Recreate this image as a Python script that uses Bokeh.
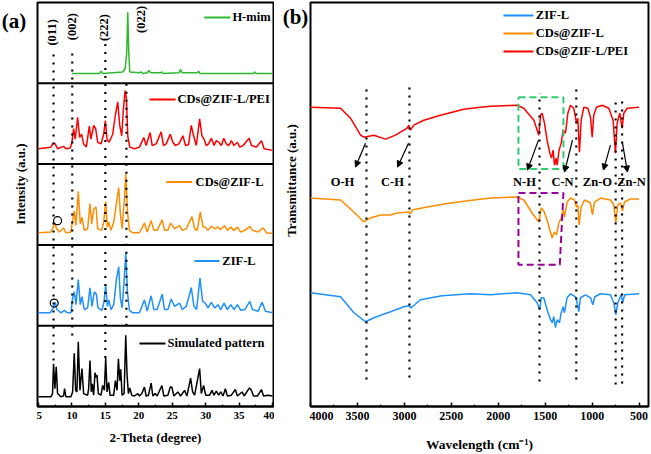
from math import pi
from bokeh.plotting import figure
from bokeh.models import Range1d, Span, FixedTicker, Arrow, NormalHead
from bokeh.layouts import row
from bokeh.embed import file_html
from bokeh.resources import INLINE
from bokeh.core.properties import value

FONT = "Liberation Serif"

# ---------------- Panel (a): XRD ----------------
tt_sim = [5.0, 6.85, 7.1, 7.25, 7.45, 7.65, 7.85, 8.35, 8.75, 8.9, 9.1, 9.85, 10.1, 10.35, 10.55, 10.75, 10.95, 11.2, 11.5, 11.75,
          12.35, 12.5, 12.7, 12.9, 13.05, 13.25, 13.45, 13.6, 13.75, 13.95, 14.35, 14.6, 14.85, 15.05, 15.25, 15.5, 15.7,
          16.25, 16.5, 16.75, 16.95, 17.15, 17.3, 17.5, 17.8, 18.05, 18.25, 18.45, 18.65, 18.95, 19.35, 19.85, 20.1, 20.45,
          20.85, 21.1, 21.45, 21.85, 22.1, 22.45, 22.75, 23.45, 23.75, 24.35, 24.7, 24.95, 25.25, 25.85, 26.25, 26.85, 27.2,
          27.75, 28.05, 28.35, 29.1, 29.35, 29.7, 30.0, 30.6, 30.95, 31.25, 31.6, 31.95, 32.25, 32.6, 32.95, 33.25, 33.85,
          34.45, 34.75, 35.45, 35.75, 36.55, 36.85, 37.15, 37.75, 38.35, 38.65, 39.35, 40.0]
i_sim = [12, 12, 16, 53, 22, 49, 16, 12, 13, 22, 12, 12, 18, 66, 20, 18, 80, 20, 47, 16,
         14, 22, 57, 18, 28, 14, 42, 36, 39, 16, 14, 26, 20, 60, 18, 30, 14,
         14, 32, 20, 59, 32, 46, 14, 16, 88, 38, 16, 23, 14, 13, 16, 13, 16,
         24, 13, 14, 29, 13, 16, 13, 26, 13, 14, 24, 24, 13, 18, 13, 20, 13,
         35, 18, 14, 47, 16, 26, 14, 14, 20, 14, 19, 14, 18, 13, 22, 13, 14,
         21, 13, 18, 13, 23, 20, 13, 13, 21, 13, 14, 13]

tt_zif = [5.0, 6.75, 7.2, 7.5, 7.75, 8.35, 8.85, 9.35, 9.85, 10.1, 10.35, 10.6, 10.95, 11.25, 11.5, 11.85, 12.35, 12.7, 13.0,
          13.35, 13.65, 13.9, 14.5, 14.8, 15.05, 15.3, 15.5, 15.85, 16.25, 16.65, 17.0, 17.25, 17.5, 17.8, 18.05, 18.3, 18.6,
          19.1, 20.1, 20.85, 21.25, 21.85, 22.25, 22.75, 23.5, 23.85, 24.35, 24.85, 25.35, 26.1, 26.5, 27.1, 27.85, 28.25,
          28.65, 29.15, 29.55, 29.95, 30.35, 30.85, 31.35, 31.85, 32.25, 32.75, 33.25, 33.75, 34.25, 34.75, 35.25, 35.85,
          36.6, 37.0, 37.85, 38.45, 38.95, 40.0]
i_zif = [16, 16, 22, 29, 20, 16, 19, 16, 16, 34, 42, 26, 57, 26, 36, 20, 22, 47, 24,
         42, 39, 22, 19, 30, 51, 24, 32, 20, 26, 57, 73, 34, 22, 55, 90, 42, 19,
         16, 16, 32, 18, 37, 20, 20, 39, 20, 20, 33, 24, 28, 20, 24, 47, 24,
         20, 59, 30, 28, 22, 29, 22, 26, 20, 28, 20, 26, 20, 26, 19, 20,
         30, 20, 18, 29, 18, 16]

tt_cds = [5.0, 6.85, 7.2, 7.45, 7.7, 8.1, 8.75, 9.1, 9.85, 10.1, 10.35, 10.6, 10.95, 11.25, 11.5, 11.85, 12.35, 12.7, 12.95,
          13.25, 13.6, 13.85, 14.45, 14.75, 15.05, 15.3, 15.5, 15.85, 16.25, 16.65, 17.0, 17.25, 17.5, 17.8, 18.05, 18.3, 18.6,
          19.1, 20.1, 20.85, 21.25, 21.85, 22.25, 22.75, 23.5, 23.85, 24.35, 24.75, 25.35, 26.1, 26.5, 27.1, 27.95, 28.35,
          28.75, 29.2, 29.6, 29.95, 30.35, 30.85, 31.35, 31.85, 32.25, 32.85, 33.25, 33.75, 34.25, 34.75, 35.25, 35.85,
          36.6, 37.0, 37.85, 38.6, 39.1, 40.0]
i_cds = [15, 16, 22, 27, 20, 16, 21, 15, 16, 30, 42, 24, 66, 26, 34, 18, 20, 51, 26,
         44, 47, 20, 18, 28, 54, 22, 28, 18, 28, 51, 71, 38, 20, 51, 88, 42, 18,
         15, 15, 27, 16, 30, 18, 18, 31, 18, 18, 27, 20, 24, 18, 20, 35, 20,
         18, 41, 22, 22, 18, 23, 20, 22, 19, 24, 18, 22, 18, 22, 16, 18,
         23, 18, 16, 21, 15, 14]

tt_pei = [5.0, 6.85, 7.2, 7.5, 7.85, 8.75, 9.1, 9.75, 10.0, 10.25, 10.5, 10.85, 11.15, 11.45, 11.75, 12.15, 12.6, 12.85, 13.25,
          13.55, 13.85, 14.35, 14.75, 15.0, 15.25, 15.55, 16.1, 16.45, 16.85, 17.15, 17.45, 17.7, 17.95, 18.15, 18.35, 18.65,
          19.35, 20.1, 20.75, 21.1, 21.7, 22.0, 22.6, 23.35, 23.7, 24.1, 24.7, 25.1, 25.45, 26.0, 26.6, 27.0, 27.45, 27.85,
          28.2, 28.6, 29.1, 29.45, 29.75, 30.1, 30.45, 30.85, 31.25, 31.6, 31.95, 32.35, 32.7, 33.1, 33.45, 33.85, 34.25,
          34.75, 35.1, 35.6, 36.5, 36.85, 37.6, 38.35, 38.75, 40.0]
i_pei = [19, 21, 26, 25, 19, 22, 19, 20, 27, 44, 31, 58, 33, 37, 25, 21, 47, 31, 48,
         44, 27, 25, 37, 54, 31, 27, 37, 58, 77, 48, 35, 68, 91, 81, 35, 21,
         19, 21, 33, 23, 39, 23, 25, 40, 23, 25, 37, 27, 23, 25, 35, 23, 24, 48,
         35, 23, 56, 35, 31, 23, 25, 32, 23, 29, 27, 23, 32, 25, 23, 29, 23,
         27, 21, 23, 32, 23, 21, 29, 19, 17]

tt_him = [10.0, 14.1, 14.35, 14.6, 17.6, 17.95, 18.2, 18.35, 18.5, 18.65, 20.1, 20.35, 20.6, 21.25, 21.5, 21.75, 23.25,
          23.45, 23.65, 26.0, 26.25, 26.5, 28.75, 28.95, 29.15, 37.1, 37.35, 37.6, 40.0]
i_him = [12, 12, 15, 12, 14, 18, 38, 88, 38, 14, 13, 14, 12, 13, 16, 13, 13,
         14, 12, 13, 17, 13, 13, 15, 12, 12, 14, 12, 12]

xrd_names = ["Simulated pattern", "ZIF-L", "CDs@ZIF-L", "CDs@ZIF-L/PEI", "H-mim"]
xrd_colors = ["#000000", "#1E90FF", "#FF8C00", "#FF0000", "#2EB82E"]
xrd_x = [tt_sim, tt_zif, tt_cds, tt_pei, tt_him]
xrd_y = [i_sim, i_zif, i_cds, i_pei, i_him]

planes = ["(011)", "(002)", "(222)", "(022)"]
plane_pos = [7.25, 10.05, 15.0, 18.15]

a_ticks = [5, 10, 15, 20, 25, 30, 35, 40]

# ---------------- Panel (b): FTIR ----------------
wn_zif = [4000, 3680, 3538, 3414, 3325, 3148, 3006, 2953, 2935, 2917, 2828, 2600, 2300, 2083, 1799, 1657, 1586, 1558, 1543,
          1515, 1480, 1444, 1426, 1409, 1391, 1373, 1348, 1330, 1309, 1295, 1267, 1231, 1178, 1160, 1142, 1125, 1071, 1018,
          993, 972, 912, 805, 770, 748, 727, 692, 674, 653, 500]
t_zif = [114, 110, 94, 85, 89, 95, 100, 101, 99, 100, 107, 111, 113, 112, 114, 112, 104, 97, 109,
         109, 97, 87, 84, 90, 79, 87, 84, 94, 100, 94, 109, 113, 110, 104, 95, 109, 112, 109,
         102, 110, 113, 112, 104, 92, 104, 112, 105, 112, 113]

wn_cds = [4000, 3680, 3538, 3432, 3361, 3254, 3148, 3077, 2953, 2935, 2917, 2758, 2509, 2260, 2083, 1799, 1728, 1639, 1568,
          1543, 1515, 1480, 1451, 1426, 1401, 1380, 1355, 1330, 1309, 1295, 1267, 1231, 1188, 1167, 1153, 1139, 1117, 1082,
          1018, 997, 975, 912, 805, 770, 748, 727, 699, 677, 656, 592, 500]
t_cds = [209, 207, 195, 185, 189, 192, 192, 194, 195, 193, 197, 200, 204, 207, 209, 210, 207, 194, 185,
         199, 196, 187, 177, 169, 175, 172, 184, 189, 197, 190, 205, 209, 207, 200, 202, 182, 200, 207,
         204, 192, 205, 209, 207, 202, 184, 202, 204, 196, 205, 208, 208]

wn_pei = [4000, 3680, 3574, 3467, 3432, 3325, 3201, 3148, 3095, 2970, 2953, 2935, 2900, 2793, 2616, 2367, 2190, 2083, 1799,
          1728, 1621, 1568, 1550, 1533, 1508, 1480, 1451, 1433, 1416, 1401, 1384, 1373, 1352, 1330, 1309, 1284, 1259, 1231,
          1196, 1178, 1167, 1153, 1135, 1117, 1089, 1046, 1018, 1000, 983, 954, 894, 823, 777, 752, 734, 706, 681, 663, 627, 500]
t_pei = [300, 299, 289, 272, 270, 272, 268, 270, 272, 279, 282, 277, 282, 287, 292, 298, 300, 301, 302,
         299, 287, 272, 292, 294, 284, 267, 254, 249, 257, 242, 249, 242, 257, 264, 277, 274, 294, 302,
         299, 290, 284, 289, 255, 287, 300, 299, 290, 270, 292, 300, 302, 299, 287, 254, 284, 294, 279, 294, 299, 300]

ftir_names = ["ZIF-L", "CDs@ZIF-L", "CDs@ZIF-L/PEI"]
ftir_colors = ["#1E90FF", "#FF8C00", "#FF0000"]
ftir_x = [wn_zif, wn_cds, wn_pei]
ftir_y = [t_zif, t_cds, t_pei]

bond_names = ["O-H", "C-H", "N-H", "C-N", "Zn-O", "Zn-N"]
bond_pos = [3404, 2946, 1561, 1169, 750, 681]
b_ticks = [4000, 3500, 3000, 2500, 2000, 1500, 1000, 500]

H = 454


def style_plot(p):
    p.background_fill_color = "white"
    p.border_fill_color = "white"
    p.outline_line_color = "black"
    p.outline_line_width = 2
    p.xgrid.visible = False
    p.ygrid.visible = False
    ax = p.xaxis[0]
    ax.axis_line_width = 2
    ax.axis_line_color = "black"
    ax.major_tick_in = 4
    ax.major_tick_out = 0
    ax.minor_tick_in = 2
    ax.minor_tick_out = 0
    ax.major_tick_line_width = 1.5
    ax.minor_tick_line_width = 1.2
    ax.major_label_text_font = FONT
    ax.major_label_text_font_style = "bold"
    ax.major_label_text_color = "black"
    ax.axis_label_text_font = FONT
    ax.axis_label_text_font_style = "bold"
    ax.axis_label_text_color = "black"


def label_strip(width, texts, xs, ys, angles, sizes):
    f = figure(width=width, height=H, x_range=Range1d(0, width), y_range=Range1d(0, H),
               x_axis_location=None, y_axis_location=None, output_backend="svg", toolbar_location=None,
               min_border=0)
    f.outline_line_color = None
    f.xgrid.visible = False
    f.ygrid.visible = False
    f.background_fill_color = "white"
    f.border_fill_color = "white"
    for t, x, y, a, s in zip(texts, xs, ys, angles, sizes):
        f.text([x], [y], text=[t], angle=a, text_align="center", text_baseline="middle",
               text_font=value(FONT), text_font_style="bold", text_font_size=s, text_color="black")
    return f


# ----- left strip: "(a)" and y label -----
strip_a = label_strip(36, ["(a)", "Intensity (a.u.)"], [13.5, 20], [H - 21, H - 204], [0, pi / 2], ["21px", "13px"])

# ----- figure a -----
pa = figure(width=238, height=H, x_range=Range1d(4.85, 40.15), y_range=Range1d(0, 5),
            y_axis_location=None, output_backend="svg", toolbar_location=None,
            min_border_left=1, min_border_right=1, min_border_top=2, min_border_bottom=47)
style_plot(pa)
pa.xaxis.ticker = FixedTicker(ticks=a_ticks, minor_ticks=[t + 2.5 for t in a_ticks[:-1]])
pa.xaxis.major_label_text_font_size = "11px"
pa.xaxis.axis_label = "2-Theta (degree)"
pa.xaxis.axis_label_text_font_size = "13px"
pa.xaxis.axis_label_standoff = 8
pa.xaxis.major_label_standoff = 5

for k in range(5):
    ys = [k + v / 100.0 for v in xrd_y[k]]
    pa.line(xrd_x[k], ys, line_color=xrd_colors[k], line_width=1.5)
for k in range(1, 5):
    pa.add_layout(Span(location=k, dimension="width", line_color="black", line_width=2))

dot_top = [4.41, 4.41, 4.51, 4.0]
dot_bot = [0.57, 0.88, 0.6, 1.0]
pa.segment(plane_pos, dot_bot, plane_pos, dot_top, line_color="black", line_width=2.2, line_dash="2 6")
plane_text_x = [7.05, 9.95, 14.85, 20.35]
plane_text_y = [4.63, 4.70, 4.69, 4.79]
pa.text(plane_text_x, plane_text_y, text=planes, angle=pi / 2, text_align="center", text_baseline="middle",
        text_font=value(FONT), text_font_style="bold", text_font_size="12.5px", text_color="black")

pa.scatter([7.35, 7.85], [1.28, 2.30], size=8, marker="circle", fill_color=None, line_color="black", line_width=1.2)

leg_x0 = [20.1, 28.3, 24.1, 21.6, 29.8]
leg_x1 = [24.0, 32.1, 28.0, 25.5, 33.7]
leg_tx = [24.3, 32.5, 28.5, 25.8, 34.0]
leg_dy = [0.78, 0.80, 0.78, 0.80, 0.815]
for k in range(5):
    yy = k + leg_dy[k]
    pa.segment([leg_x0[k]], [yy], [leg_x1[k]], [yy], line_color=xrd_colors[k], line_width=2)
    pa.text([leg_tx[k]], [yy], text=[xrd_names[k]], text_align="left", text_baseline="middle",
            text_font=value(FONT), text_font_style="bold", text_font_size="12.5px", text_color="black")

# ----- middle strip: "(b)" and y label -----
strip_b = label_strip(35, ["(b)", "Transmittance (a.u.)"], [21, 17], [H - 16, H - 200], [0, pi / 2], ["21px", "13px"])

# ----- figure b -----
pb = figure(width=342, height=H, x_range=Range1d(4000, 400), y_range=Range1d(0, 405),
            y_axis_location=None, output_backend="svg", toolbar_location=None,
            min_border_left=1, min_border_right=3, min_border_top=2, min_border_bottom=47)
style_plot(pb)
pb.xaxis.ticker = FixedTicker(ticks=b_ticks, minor_ticks=[t - 250 for t in b_ticks[:-1]])
pb.xaxis.major_label_text_font_size = "12px"
pb.xaxis.axis_label = "Wavelength (cm⁻¹)"
pb.xaxis.axis_label_text_font_size = "13.5px"
pb.xaxis.axis_label_standoff = 14

for k in range(3):
    pb.line(ftir_x[k], ftir_y[k], line_color=ftir_colors[k], line_width=1.5)

pb.line([1785, 1306, 1306, 1785, 1785], [310, 310, 238, 238, 310], line_color="#2ECC71", line_width=2, line_dash="7 4")
pb.line([1785, 1306, 1345, 1785, 1785], [214, 214, 142, 142, 214], line_color="#990099", line_width=2, line_dash="7 4")

pb.segment(bond_pos, [27, 29, 25, 27, 22, 23], bond_pos, [320, 322, 314, 318, 310, 311],
           line_color="black", line_width=2.2, line_dash="2 6")

arr_x0 = [3414, 2956, 1572, 1210, 805, 677]
arr_y0 = [264, 264, 267, 267, 262, 264]
arr_x1 = [3521, 3073, 1689, 1295, 880, 624]
arr_y1 = [240, 240, 237, 235, 237, 235]
for i in range(6):
    pb.add_layout(Arrow(end=NormalHead(size=6, fill_color="black", line_color="black"),
                        x_start=arr_x0[i], y_start=arr_y0[i], x_end=arr_x1[i], y_end=arr_y1[i],
                        line_color="black", line_width=1.2))
lab_x = [3659, 3127, 1721, 1316, 944, 581]
pb.text(lab_x, [225] * 6, text=bond_names, text_align="center", text_baseline="middle",
        text_font=value(FONT), text_font_style="bold", text_font_size="12.5px", text_color="black")

leg_y = [392, 374, 356]
for k in range(3):
    pb.segment([1945], [leg_y[k]], [1625], [leg_y[k]], line_color=ftir_colors[k], line_width=2)
    pb.text([1600], [leg_y[k]], text=[ftir_names[k]], text_align="left", text_baseline="middle",
            text_font=value(FONT), text_font_style="bold", text_font_size="12.5px", text_color="black")

layout = row(strip_a, pa, strip_b, pb, spacing=0)
open("out.html", "w").write(file_html(layout, INLINE))
